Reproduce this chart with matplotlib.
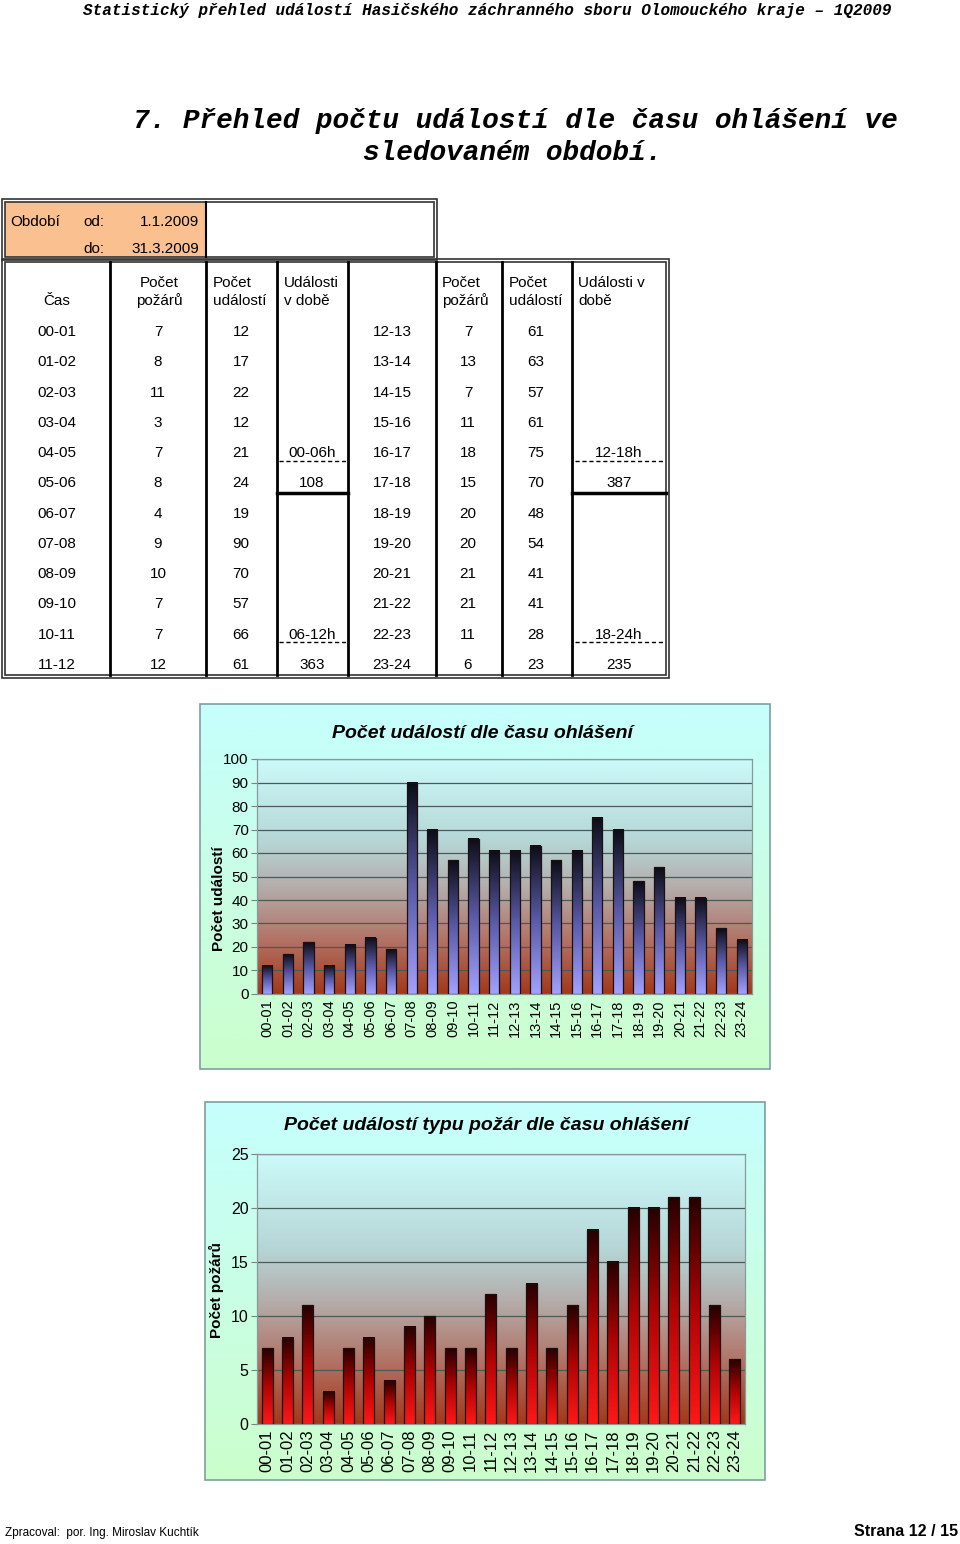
import numpy as np
import matplotlib
matplotlib.use("Agg")
from matplotlib import pyplot as plt
from matplotlib.patches import Rectangle
from matplotlib.colors import LinearSegmentedColormap

# data
hours = ["00-01", "01-02", "02-03", "03-04", "04-05", "05-06", "06-07", "07-08",
         "08-09", "09-10", "10-11", "11-12", "12-13", "13-14", "14-15", "15-16",
         "16-17", "17-18", "18-19", "19-20", "20-21", "21-22", "22-23", "23-24"]
fires = [7, 8, 11, 3, 7, 8, 4, 9, 10, 7, 7, 12,
         7, 13, 7, 11, 18, 15, 20, 20, 21, 21, 11, 6]
events = [12, 17, 22, 12, 21, 24, 19, 90, 70, 57, 66, 61,
          61, 63, 57, 61, 75, 70, 48, 54, 41, 41, 28, 23]
periods = ["00-06h", "06-12h", "12-18h", "18-24h"]
period_totals = [108, 363, 387, 235]
date_from = "1.1.2009"
date_to = "31.3.2009"

W, H = 960, 1544
fig = plt.figure(figsize=(W / 100, H / 100), dpi=100)
fig.patch.set_facecolor("white")

# full-page axes in pixel units for the text and the table
bg = fig.add_axes([0, 0, 1, 1])
bg.set_xlim(0, W)
bg.set_ylim(H, 0)
bg.axis("off")

sans = ["Liberation Sans", "DejaVu Sans"]
mono = ["Liberation Mono", "DejaVu Sans Mono"]

bg.text(487, 10, "Statistický přehled událostí Hasičského záchranného sboru Olomouckého kraje – 1Q2009",
        family=mono, fontsize=11.5, weight="bold", style="italic", ha="center", va="center")
bg.text(133, 121, "7. Přehled počtu událostí dle času ohlášení ve",
        family=mono, fontsize=20, weight="bold", style="italic", ha="left", va="center")
bg.text(513, 153, "sledovaném období.",
        family=mono, fontsize=20, weight="bold", style="italic", ha="center", va="center")


def dbl_box(x0, y0, x1, y1):
    bg.add_patch(Rectangle((x0, y0), x1 - x0, y1 - y0, fill=False, lw=1.2, ec="#333333"))
    bg.add_patch(Rectangle((x0 + 3, y0 + 3), x1 - x0 - 6, y1 - y0 - 6, fill=False, lw=1.2, ec="#333333"))


# period box
bg.add_patch(Rectangle((5, 202), 201, 55, fc="#FAC090", ec="none"))
dbl_box(2, 199, 437, 260)
bg.plot([206, 206], [202, 257], color="black", lw=1.5)
fs = 11
bg.text(10, 222, "Období", family=sans, fontsize=fs, va="center")
bg.text(83, 222, "od:", family=sans, fontsize=fs, va="center")
bg.text(199, 222, date_from, family=sans, fontsize=fs, va="center", ha="right")
bg.text(83, 249, "do:", family=sans, fontsize=fs, va="center")
bg.text(199, 249, date_to, family=sans, fontsize=fs, va="center", ha="right")

# main table
dbl_box(2, 259, 669, 678)
for xv in [110, 206, 277, 348, 436, 502, 572]:
    bg.plot([xv, xv], [262, 675], color="black", lw=2)
for xa, xb in [(279, 346), (575, 664)]:
    for yv in [461, 642]:
        bg.plot([xa, xb], [yv, yv], color="black", lw=1, ls=(0, (3, 2)))
bg.plot([277, 348], [493, 493], color="black", lw=2.5)
bg.plot([572, 666], [493, 493], color="black", lw=2.5)

bg.text(57, 301, "Čas", family=sans, fontsize=fs, ha="center", va="center")
bg.text(159, 283, "Počet", family=sans, fontsize=fs, ha="center", va="center")
bg.text(159, 301, "požárů", family=sans, fontsize=fs, ha="center", va="center")
for xl, t1, t2 in [(213, "Počet", "událostí"), (284, "Události", "v době"),
                   (442, "Počet", "požárů"), (509, "Počet", "událostí"),
                   (578, "Události v", "době")]:
    bg.text(xl, 283, t1, family=sans, fontsize=fs, ha="left", va="center")
    bg.text(xl, 301, t2, family=sans, fontsize=fs, ha="left", va="center")

row_y = [332 + 30.27 * i for i in range(12)]
for i in range(12):
    y = row_y[i]
    bg.text(57, y, hours[i], family=sans, fontsize=fs, ha="center", va="center")
    bg.text(158, y, str(fires[i]), family=sans, fontsize=fs, ha="center", va="center")
    bg.text(241, y, str(events[i]), family=sans, fontsize=fs, ha="center", va="center")
    bg.text(392, y, hours[i + 12], family=sans, fontsize=fs, ha="center", va="center")
    bg.text(468, y, str(fires[i + 12]), family=sans, fontsize=fs, ha="center", va="center")
    bg.text(536, y, str(events[i + 12]), family=sans, fontsize=fs, ha="center", va="center")

for idx, (xc, r) in enumerate([(312, 4), (312, 10), (619, 4), (619, 10)]):
    bg.text(xc, row_y[r], periods[idx], family=sans, fontsize=fs, ha="center", va="center")
    bg.text(xc, row_y[r + 1], str(period_totals[idx]), family=sans, fontsize=fs, ha="center", va="center")

# footer
bg.text(5, 1533, "Zpracoval:  por. Ing. Miroslav Kuchtík", family=sans,
        fontsize=8.5, ha="left", va="center")
bg.text(958, 1532, "Strana 12 / 15", family=sans,
        fontsize=11.5, weight="bold", ha="right", va="center")

# gradients
frame_cmap = LinearSegmentedColormap.from_list("frame", ["#C6FEFE", "#CCFECC"])
plot_cmap = LinearSegmentedColormap.from_list(
    "plot", [(0, "#CCFAFA"), (0.35, "#B6D6D6"), (0.55, "#B4ACAA"), (0.78, "#B27062"), (1, "#A2381A")])
blue_cmap = LinearSegmentedColormap.from_list(
    "blue", [(0, "#A2A2FF"), (0.5, "#5A5AA8"), (1, "#0C0C16")])
red_cmap = LinearSegmentedColormap.from_list(
    "red", [(0, "#FF1818"), (0.5, "#B00404"), (1, "#260000")])
ramp = np.linspace(0, 1, 256).reshape(-1, 1)


def px_axes(x0, y0, x1, y1):
    return fig.add_axes([x0 / W, 1 - y1 / H, (x1 - x0) / W, (y1 - y0) / H])


def chart(box, area, values, ymax, ystep, bar_cmap, title, title_pos, ylabel, ylabel_pos,
          bar_w, xfs, yfs):
    bx0, by0, bx1, by1 = box
    bg.imshow(ramp, cmap=frame_cmap, extent=(bx0, bx1, by1, by0), origin="upper",
              aspect="auto", zorder=0)
    bg.add_patch(Rectangle((bx0, by0), bx1 - bx0, by1 - by0, fill=False, ec="#7F9F9F", lw=1.2, zorder=1))
    bg.set_xlim(0, W)
    bg.set_ylim(H, 0)
    bg.text(title_pos[0], title_pos[1], title, family=sans, fontsize=14, weight="bold",
            style="italic", ha="center", va="center", zorder=2)
    bg.text(ylabel_pos[0], ylabel_pos[1], ylabel, family=sans, fontsize=11, weight="bold",
            rotation=90, ha="center", va="center", zorder=2)

    ax = px_axes(*area)
    ax.patch.set_alpha(0)
    ax.imshow(ramp, cmap=plot_cmap, extent=(0, 1, 0, 1), transform=ax.transAxes,
              origin="upper", aspect="auto", zorder=0)
    x = np.arange(len(values))
    bars = ax.bar(x, values, width=bar_w, color="none", edgecolor="#1A1010", lw=0.9, zorder=3)
    for b in bars:
        ax.imshow(ramp, cmap=bar_cmap, origin="lower", aspect="auto", zorder=2.5,
                  extent=(b.get_x(), b.get_x() + b.get_width(), 0, b.get_height()))
    ax.set_xlim(-0.5, len(values) - 0.5)
    ax.set_ylim(0, ymax)
    ax.set_yticks(np.arange(0, ymax + 1, ystep))
    ax.yaxis.grid(True, color="#4A5A5A", lw=0.9)
    ax.set_axisbelow(True)
    ax.set_xticks(x)
    ax.set_xticklabels(hours, rotation=90, family=sans, fontsize=xfs)
    ax.tick_params(axis="x", length=0, pad=4)
    ax.tick_params(axis="y", length=4, color="#808080", pad=2, labelsize=yfs)
    for lab in ax.get_yticklabels():
        lab.set_family(sans)
    for s in ax.spines.values():
        s.set_color("#8A9A9A")
        s.set_linewidth(0.9)
    return ax


chart((200, 704, 770, 1069), (257, 759, 752, 994), events, 100, 10, blue_cmap,
      "Počet událostí dle času ohlášení", (482, 734), "Počet událostí", (219, 899),
      0.5, 10.5, 11)
chart((205, 1102, 765, 1480), (257, 1154, 745, 1424), fires, 25, 5, red_cmap,
      "Počet událostí typu požár dle času ohlášení", (486, 1125), "Počet požárů", (216, 1290),
      0.55, 12, 11.5)

fig.savefig("out.png", dpi=100)
